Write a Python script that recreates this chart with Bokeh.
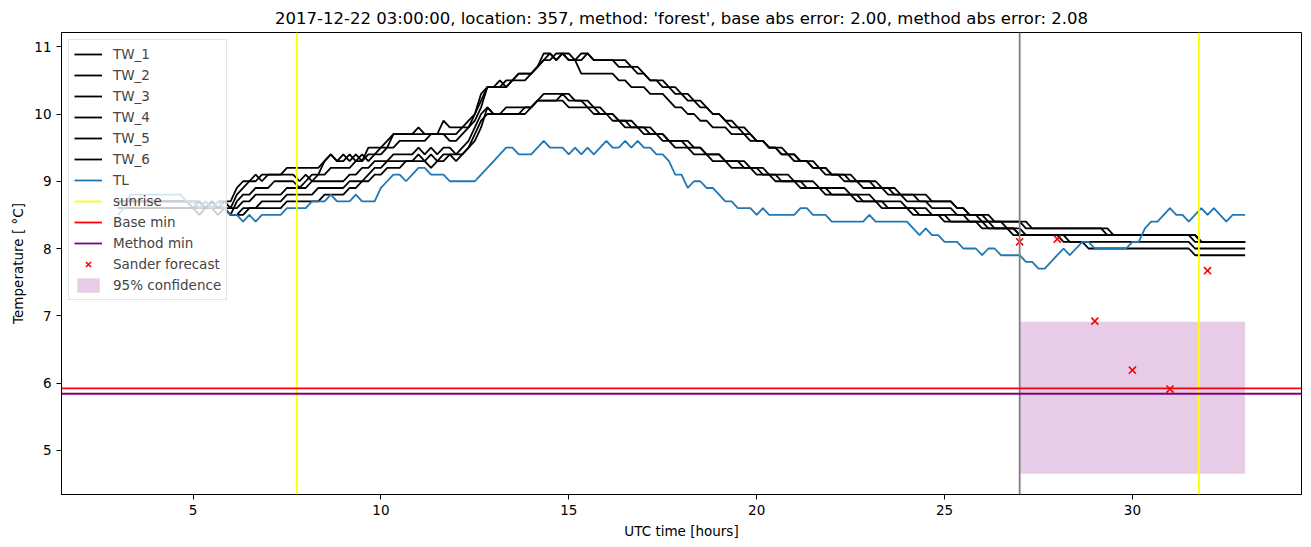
from bokeh.plotting import figure
from bokeh.models import Range1d, Span, Legend, LegendItem, FixedTicker
from bokeh.embed import file_html
from bokeh.resources import INLINE

title_text = ("2017-12-22 03:00:00, location: 357, method: 'forest', "
              "base abs error: 2.00, method abs error: 2.08")

# time axis: 10-minute samples from 03 UTC to 33 UTC
hours = [3 + i / 6 for i in range(181)]

tw_1 = [
    8.7, 8.7, 8.7, 8.7, 8.7, 8.7,
    8.7, 8.7, 8.7, 8.7, 8.7, 8.7,
    8.7, 8.6, 8.7, 8.6, 8.7, 8.7,
    8.7, 8.9, 9.0, 9.0, 9.1, 9.0,
    9.1, 9.1, 9.1, 9.2, 9.2, 9.2,
    9.2, 9.2, 9.2, 9.3, 9.4, 9.3,
    9.4, 9.3, 9.4, 9.3, 9.5, 9.5,
    9.5, 9.6, 9.7, 9.7, 9.7, 9.7,
    9.8, 9.7, 9.7, 9.7, 9.9, 9.8,
    9.8, 9.8, 9.8, 10.0, 10.3, 10.4,
    10.4, 10.5, 10.4, 10.5, 10.6, 10.6,
    10.6, 10.7, 10.9, 10.9, 10.8, 10.9,
    10.8, 10.8, 10.9, 10.9, 10.8, 10.8,
    10.8, 10.8, 10.8, 10.8, 10.7, 10.7,
    10.6, 10.5, 10.5, 10.5, 10.4, 10.4,
    10.3, 10.3, 10.2, 10.2, 10.1, 10.0,
    10.0, 9.9, 9.9, 9.8, 9.8, 9.7,
    9.6, 9.6, 9.5, 9.5, 9.5, 9.4,
    9.3, 9.3, 9.3, 9.2, 9.2, 9.2,
    9.1, 9.1, 9.1, 9.1, 9.0, 9.0,
    9.0, 9.0, 8.9, 8.9, 8.9, 8.8,
    8.8, 8.8, 8.8, 8.8, 8.7, 8.7,
    8.7, 8.7, 8.6, 8.6, 8.5, 8.5,
    8.5, 8.5, 8.4, 8.4, 8.4, 8.4,
    8.4, 8.4, 8.3, 8.3, 8.3, 8.3,
    8.3, 8.3, 8.3, 8.3, 8.3, 8.3,
    8.3, 8.3, 8.3, 8.2, 8.2, 8.2,
    8.2, 8.2, 8.2, 8.2, 8.2, 8.2,
    8.2, 8.2, 8.2, 8.2, 8.2, 8.1,
    8.1, 8.1, 8.1, 8.1, 8.1, 8.1,
    8.1]

tw_2 = [
    8.7, 8.7, 8.7, 8.7, 8.7, 8.7,
    8.7, 8.7, 8.7, 8.7, 8.7, 8.7,
    8.7, 8.7, 8.6, 8.7, 8.6, 8.7,
    8.6, 8.8, 8.9, 9.0, 9.0, 9.1,
    9.1, 9.1, 9.1, 9.1, 9.1, 9.0,
    9.1, 9.0, 9.1, 9.3, 9.4, 9.3,
    9.3, 9.4, 9.3, 9.3, 9.4, 9.4,
    9.5, 9.5, 9.7, 9.7, 9.7, 9.7,
    9.7, 9.7, 9.7, 9.7, 9.7, 9.7,
    9.7, 9.8, 9.9, 10.0, 10.2, 10.4,
    10.4, 10.4, 10.5, 10.5, 10.6, 10.6,
    10.6, 10.7, 10.8, 10.9, 10.8, 10.9,
    10.8, 10.8, 10.6, 10.6, 10.6, 10.6,
    10.6, 10.6, 10.5, 10.5, 10.4, 10.4,
    10.4, 10.3, 10.3, 10.3, 10.2, 10.1,
    10.1, 10.0, 10.0, 9.9, 9.9, 9.8,
    9.8, 9.8, 9.7, 9.7, 9.7, 9.6,
    9.6, 9.6, 9.5, 9.5, 9.4, 9.4,
    9.4, 9.3, 9.3, 9.3, 9.2, 9.2,
    9.1, 9.1, 9.1, 9.0, 9.0, 9.0,
    9.0, 8.9, 8.9, 8.9, 8.8, 8.8,
    8.8, 8.8, 8.7, 8.7, 8.7, 8.7,
    8.7, 8.7, 8.6, 8.6, 8.5, 8.5,
    8.5, 8.4, 8.4, 8.4, 8.4, 8.4,
    8.4, 8.3, 8.3, 8.3, 8.3, 8.3,
    8.3, 8.3, 8.3, 8.3, 8.3, 8.3,
    8.3, 8.3, 8.2, 8.2, 8.2, 8.2,
    8.2, 8.2, 8.2, 8.2, 8.2, 8.2,
    8.2, 8.2, 8.2, 8.2, 8.1, 8.1,
    8.1, 8.1, 8.1, 8.1, 8.1, 8.1,
    8.1]

tw_3 = [
    8.7, 8.7, 8.7, 8.7, 8.7, 8.7,
    8.7, 8.7, 8.7, 8.7, 8.7, 8.7,
    8.6, 8.7, 8.6, 8.7, 8.6, 8.6,
    8.5, 8.7, 8.8, 8.8, 8.9, 8.9,
    8.9, 9.0, 9.0, 9.0, 9.0, 8.9,
    9.0, 9.1, 9.1, 9.1, 9.2, 9.2,
    9.2, 9.2, 9.3, 9.4, 9.3, 9.4,
    9.4, 9.5, 9.5, 9.6, 9.6, 9.6,
    9.6, 9.6, 9.7, 9.7, 9.7, 9.6,
    9.6, 9.7, 9.8, 9.9, 10.1, 10.4,
    10.4, 10.4, 10.4, 10.5, 10.5, 10.5,
    10.6, 10.7, 10.8, 10.8, 10.9, 10.9,
    10.9, 10.8, 10.8, 10.9, 10.8, 10.8,
    10.8, 10.8, 10.7, 10.7, 10.7, 10.6,
    10.6, 10.5, 10.5, 10.4, 10.4, 10.3,
    10.3, 10.2, 10.2, 10.1, 10.1, 10.0,
    10.0, 9.9, 9.8, 9.8, 9.7, 9.7,
    9.6, 9.6, 9.5, 9.5, 9.4, 9.4,
    9.4, 9.3, 9.3, 9.2, 9.2, 9.1,
    9.1, 9.1, 9.0, 9.0, 9.0, 8.9,
    8.9, 8.9, 8.9, 8.8, 8.8, 8.8,
    8.7, 8.7, 8.7, 8.7, 8.6, 8.6,
    8.6, 8.6, 8.5, 8.5, 8.5, 8.5,
    8.4, 8.4, 8.4, 8.4, 8.3, 8.3,
    8.2, 8.2, 8.2, 8.2, 8.2, 8.2,
    8.2, 8.2, 8.2, 8.2, 8.2, 8.2,
    8.2, 8.2, 8.2, 8.2, 8.2, 8.2,
    8.2, 8.2, 8.2, 8.2, 8.2, 8.2,
    8.2, 8.2, 8.2, 8.2, 8.2, 8.1,
    8.1, 8.1, 8.1, 8.1, 8.1, 8.1,
    8.1]

tw_4 = [
    8.6, 8.6, 8.6, 8.6, 8.6, 8.6,
    8.6, 8.6, 8.6, 8.6, 8.6, 8.6,
    8.6, 8.6, 8.7, 8.6, 8.6, 8.6,
    8.6, 8.6, 8.7, 8.7, 8.8, 8.8,
    8.8, 8.8, 8.8, 8.9, 8.9, 8.9,
    8.9, 9.0, 9.0, 9.0, 9.0, 9.0,
    9.0, 9.1, 9.1, 9.2, 9.2, 9.3,
    9.3, 9.3, 9.4, 9.4, 9.4, 9.4,
    9.5, 9.4, 9.5, 9.4, 9.5, 9.5,
    9.4, 9.5, 9.6, 9.8, 10.0, 10.1,
    10.0, 10.0, 10.0, 10.0, 10.0, 10.1,
    10.1, 10.2, 10.3, 10.3, 10.3, 10.3,
    10.3, 10.2, 10.2, 10.2, 10.1, 10.1,
    10.0, 10.0, 9.9, 9.9, 9.8, 9.8,
    9.8, 9.7, 9.7, 9.7, 9.6, 9.6,
    9.6, 9.5, 9.5, 9.5, 9.4, 9.4,
    9.4, 9.3, 9.3, 9.3, 9.3, 9.2,
    9.2, 9.2, 9.1, 9.1, 9.1, 9.1,
    9.0, 9.0, 9.0, 9.0, 8.9, 8.9,
    8.9, 8.9, 8.9, 8.8, 8.8, 8.8,
    8.8, 8.7, 8.7, 8.7, 8.7, 8.7,
    8.6, 8.6, 8.6, 8.6, 8.5, 8.5,
    8.5, 8.5, 8.5, 8.5, 8.4, 8.4,
    8.4, 8.4, 8.3, 8.3, 8.3, 8.3,
    8.2, 8.2, 8.2, 8.2, 8.2, 8.2,
    8.2, 8.2, 8.2, 8.2, 8.2, 8.2,
    8.2, 8.2, 8.2, 8.2, 8.2, 8.2,
    8.2, 8.2, 8.2, 8.2, 8.2, 8.2,
    8.2, 8.2, 8.2, 8.2, 8.2, 8.1,
    8.1, 8.1, 8.1, 8.1, 8.1, 8.1,
    8.1]

tw_5 = [
    8.6, 8.6, 8.6, 8.6, 8.6, 8.6,
    8.6, 8.6, 8.6, 8.6, 8.6, 8.6,
    8.6, 8.6, 8.6, 8.7, 8.6, 8.6,
    8.5, 8.5, 8.6, 8.6, 8.6, 8.7,
    8.7, 8.7, 8.7, 8.8, 8.8, 8.8,
    8.8, 8.8, 8.9, 8.9, 8.9, 8.9,
    8.9, 9.0, 9.0, 9.0, 9.1, 9.2,
    9.2, 9.3, 9.3, 9.3, 9.3, 9.3,
    9.4, 9.3, 9.2, 9.3, 9.4, 9.4,
    9.3, 9.4, 9.5, 9.7, 9.9, 10.0,
    10.0, 10.0, 10.0, 10.0, 10.0, 10.0,
    10.1, 10.2, 10.2, 10.2, 10.2, 10.2,
    10.1, 10.1, 10.1, 10.1, 10.0, 10.0,
    10.0, 9.9, 9.9, 9.8, 9.8, 9.8,
    9.7, 9.7, 9.7, 9.6, 9.6, 9.5,
    9.5, 9.5, 9.4, 9.4, 9.4, 9.3,
    9.3, 9.3, 9.2, 9.2, 9.2, 9.2,
    9.1, 9.1, 9.1, 9.0, 9.0, 9.0,
    9.0, 8.9, 8.9, 8.9, 8.9, 8.8,
    8.8, 8.8, 8.8, 8.8, 8.7, 8.7,
    8.7, 8.7, 8.6, 8.6, 8.6, 8.6,
    8.6, 8.5, 8.5, 8.5, 8.5, 8.5,
    8.4, 8.4, 8.4, 8.4, 8.4, 8.4,
    8.3, 8.3, 8.3, 8.3, 8.3, 8.2,
    8.2, 8.2, 8.2, 8.2, 8.2, 8.2,
    8.2, 8.2, 8.1, 8.1, 8.1, 8.1,
    8.1, 8.1, 8.1, 8.1, 8.1, 8.1,
    8.1, 8.1, 8.1, 8.1, 8.1, 8.1,
    8.1, 8.1, 8.1, 8.1, 8.0, 8.0,
    8.0, 8.0, 8.0, 8.0, 8.0, 8.0,
    8.0]

tw_6 = [
    8.6, 8.6, 8.6, 8.6, 8.6, 8.6,
    8.6, 8.6, 8.6, 8.6, 8.6, 8.6,
    8.6, 8.5, 8.6, 8.6, 8.5, 8.6,
    8.5, 8.5, 8.5, 8.6, 8.6, 8.6,
    8.6, 8.6, 8.6, 8.7, 8.7, 8.7,
    8.7, 8.7, 8.7, 8.8, 8.8, 8.8,
    8.8, 8.9, 8.9, 9.0, 9.0, 9.1,
    9.1, 9.2, 9.2, 9.2, 9.3, 9.3,
    9.3, 9.3, 9.4, 9.3, 9.3, 9.4,
    9.4, 9.4, 9.5, 9.6, 9.8, 10.1,
    10.0, 10.0, 10.1, 10.1, 10.1, 10.1,
    10.1, 10.2, 10.2, 10.2, 10.2, 10.3,
    10.2, 10.2, 10.2, 10.1, 10.1, 10.0,
    10.0, 10.0, 9.9, 9.9, 9.9, 9.8,
    9.8, 9.8, 9.7, 9.7, 9.6, 9.6,
    9.6, 9.6, 9.5, 9.5, 9.4, 9.4,
    9.4, 9.3, 9.3, 9.3, 9.2, 9.2,
    9.2, 9.1, 9.1, 9.1, 9.0, 9.0,
    9.0, 9.0, 8.9, 8.9, 8.9, 8.9,
    8.8, 8.8, 8.8, 8.8, 8.8, 8.7,
    8.7, 8.7, 8.7, 8.6, 8.6, 8.6,
    8.6, 8.6, 8.5, 8.5, 8.5, 8.5,
    8.5, 8.4, 8.4, 8.4, 8.4, 8.4,
    8.4, 8.3, 8.3, 8.3, 8.3, 8.3,
    8.3, 8.2, 8.2, 8.2, 8.2, 8.2,
    8.2, 8.1, 8.1, 8.1, 8.1, 8.0,
    8.0, 8.0, 8.0, 8.0, 8.0, 8.0,
    8.0, 8.0, 8.0, 8.0, 8.0, 8.0,
    8.0, 8.0, 8.0, 8.0, 7.9, 7.9,
    7.9, 7.9, 7.9, 7.9, 7.9, 7.9,
    7.9]

tl = [
    8.5, 8.6, 8.8, 8.8, 8.8, 8.8,
    8.8, 8.8, 8.8, 8.8, 8.8, 8.7,
    8.7, 8.6, 8.7, 8.6, 8.7, 8.6,
    8.5, 8.5, 8.4, 8.5, 8.4, 8.5,
    8.5, 8.5, 8.5, 8.6, 8.6, 8.6,
    8.6, 8.7, 8.7, 8.7, 8.8, 8.7,
    8.7, 8.7, 8.8, 8.7, 8.7, 8.7,
    8.9, 9.0, 9.1, 9.1, 9.0, 9.1,
    9.2, 9.2, 9.1, 9.1, 9.1, 9.0,
    9.0, 9.0, 9.0, 9.0, 9.1, 9.2,
    9.3, 9.4, 9.5, 9.5, 9.4, 9.4,
    9.4, 9.5, 9.6, 9.5, 9.5, 9.5,
    9.4, 9.5, 9.4, 9.5, 9.4, 9.5,
    9.6, 9.5, 9.5, 9.6, 9.5, 9.6,
    9.5, 9.5, 9.4, 9.4, 9.3, 9.1,
    9.1, 8.9, 9.0, 9.0, 8.9, 8.9,
    8.8, 8.7, 8.7, 8.6, 8.6, 8.6,
    8.5, 8.6, 8.5, 8.5, 8.5, 8.5,
    8.5, 8.6, 8.6, 8.5, 8.5, 8.5,
    8.4, 8.4, 8.4, 8.4, 8.4, 8.4,
    8.5, 8.4, 8.4, 8.4, 8.4, 8.4,
    8.4, 8.3, 8.2, 8.3, 8.2, 8.2,
    8.1, 8.1, 8.1, 8.0, 8.0, 8.0,
    7.9, 8.0, 8.0, 7.9, 7.9, 7.9,
    7.9, 7.8, 7.8, 7.7, 7.7, 7.8,
    7.9, 8.0, 7.9, 8.0, 8.1, 8.1,
    8.0, 8.0, 8.0, 8.0, 8.0, 8.0,
    8.1, 8.1, 8.3, 8.4, 8.4, 8.5,
    8.6, 8.5, 8.5, 8.4, 8.5, 8.6,
    8.5, 8.6, 8.5, 8.4, 8.5, 8.5,
    8.5]

sunrise_hours = [7.76, 31.77]
forecast_start = 27.0
base_min = 5.92
method_min = 5.84
forecast_hours = [27, 28, 29, 30, 31, 32]
forecast_values = [8.10, 8.14, 6.92, 6.19, 5.91, 7.67]
conf_start, conf_end = 27.0, 33.0
conf_low, conf_high = 4.65, 6.91

x_ticks = [5, 10, 15, 20, 25, 30]
y_ticks = [5, 6, 7, 8, 9, 10, 11]

FONT = "DejaVu Sans"
NAN = float("nan")

p = figure(width=1309, height=545, output_backend="svg", toolbar_location=None,
           x_range=Range1d(1.5, 34.5), y_range=Range1d(4.342, 11.212),
           min_border_left=61, min_border_right=8, min_border_top=32,
           min_border_bottom=51, title=title_text)

p.title.align = "center"
p.title.text_font = FONT
p.title.text_font_size = "16.5px"
p.title.text_font_style = "normal"
p.title.text_color = "black"

p.xgrid.visible = False
p.ygrid.visible = False
p.outline_line_color = "black"
p.outline_line_alpha = 1.0
p.outline_line_width = 1

for ax in (p.xaxis, p.yaxis):
    ax.major_label_text_font = FONT
    ax.major_label_text_font_size = "13.5px"
    ax.major_label_text_color = "black"
    ax.axis_label_text_font = FONT
    ax.axis_label_text_font_size = "13.5px"
    ax.axis_label_text_font_style = "normal"
    ax.axis_label_text_color = "black"
    ax.minor_tick_line_color = None
    ax.major_tick_in = 0
    ax.major_tick_out = 5
    ax.major_tick_line_color = "black"
    ax.axis_line_color = "black"

p.xaxis.ticker = FixedTicker(ticks=x_ticks)
p.yaxis.ticker = FixedTicker(ticks=y_ticks)
p.xaxis.axis_label = "UTC time [hours]"
p.yaxis.axis_label = "Temperature [ °C]"

LW = 1.8

band = p.quad(left=[conf_start], right=[conf_end], bottom=[conf_low], top=[conf_high],
              fill_color="#800080", fill_alpha=0.2, line_color=None)

tw_series = [tw_1, tw_2, tw_3, tw_4, tw_5, tw_6]
tw_renderers = []
for s in tw_series:
    tw_renderers.append(p.line(hours, s, line_color="black", line_width=LW))

tl_r = p.line(hours, tl, line_color="#1f77b4", line_width=LW)

for sh in sunrise_hours:
    p.add_layout(Span(location=sh, dimension="height", line_color="yellow", line_width=LW))
p.add_layout(Span(location=forecast_start, dimension="height", line_color="gray", line_width=LW))
p.add_layout(Span(location=base_min, dimension="width", line_color="red", line_width=LW))
p.add_layout(Span(location=method_min, dimension="width", line_color="purple", line_width=LW))

# legend-only renderers (a single NaN point draws nothing in the plot)
sun_leg = p.line([sunrise_hours[0]], [NAN], line_color="yellow", line_width=LW)
base_leg = p.line([forecast_start], [NAN], line_color="red", line_width=LW)
meth_leg = p.line([forecast_start], [NAN], line_color="purple", line_width=LW)

fc = p.scatter(forecast_hours, forecast_values, marker="x", size=10,
               line_color="red", line_width=1.6)

items = [LegendItem(label=f"TW_{i + 1}", renderers=[r]) for i, r in enumerate(tw_renderers)]
items += [
    LegendItem(label="TL", renderers=[tl_r]),
    LegendItem(label="sunrise", renderers=[sun_leg]),
    LegendItem(label="Base min", renderers=[base_leg]),
    LegendItem(label="Method min", renderers=[meth_leg]),
    LegendItem(label="Sander forecast", renderers=[fc]),
    LegendItem(label="95% confidence", renderers=[band]),
]
legend = Legend(items=items, location="top_left", margin=7, padding=5,
                spacing=3, glyph_width=28, glyph_height=18, label_height=18,
                label_standoff=11, label_text_font=FONT, label_text_font_size="13.5px",
                border_line_color="#cccccc", border_line_width=1,
                background_fill_color="white", background_fill_alpha=0.8)
p.add_layout(legend)

open("out.html", "w").write(file_html(p, INLINE))
